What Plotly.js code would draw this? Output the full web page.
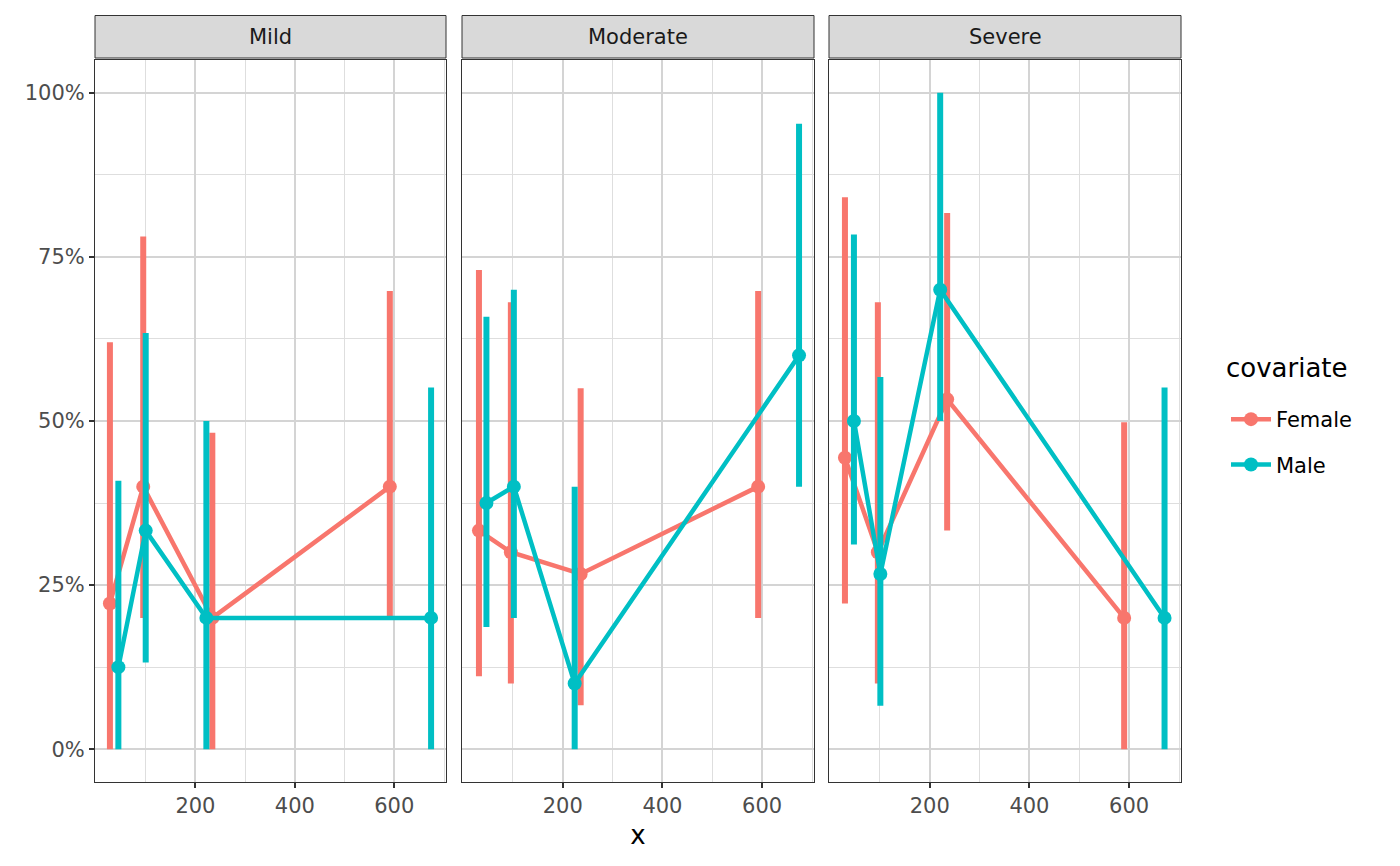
<!DOCTYPE html>
<html>
<head>
<meta charset="utf-8">
<script src="https://cdn.plot.ly/plotly-3.0.1.min.js"></script>
<style>
  body { margin: 0; background: white; }
  #chart { width: 1400px; height: 866px; }
</style>
</head>
<body>
<div id="chart"></div>
<script>
// facets, groups and colours
var panels = ['Mild', 'Moderate', 'Severe']
var groups = ['Female', 'Male']
var colors = { Female: '#F8766D', Male: '#00BFC4' }

// x positions per panel and group
var xFemale = {
    Mild: [28, 95, 234, 591],
    Moderate: [32, 96, 236, 592],
    Severe: [30, 96, 235, 590]
}
var xMale = {
    Mild: [45, 100, 222, 674],
    Moderate: [47, 102, 224, 674],
    Severe: [48, 101, 221, 671]
}

// estimates
var yFemale = {
    Mild: [0.222, 0.400, 0.200, 0.400],
    Moderate: [0.333, 0.300, 0.267, 0.400],
    Severe: [0.444, 0.300, 0.533, 0.200]
}
var yMale = {
    Mild: [0.125, 0.333, 0.200, 0.200],
    Moderate: [0.375, 0.400, 0.100, 0.600],
    Severe: [0.500, 0.267, 0.700, 0.200]
}

// interval bounds
var loFemale = {
    Mild: [0.000, 0.200, 0.000, 0.200],
    Moderate: [0.111, 0.100, 0.067, 0.200],
    Severe: [0.222, 0.100, 0.333, 0.000]
}
var hiFemale = {
    Mild: [0.620, 0.781, 0.482, 0.698],
    Moderate: [0.730, 0.681, 0.550, 0.698],
    Severe: [0.841, 0.681, 0.817, 0.498]
}
var loMale = {
    Mild: [0.000, 0.132, 0.000, 0.000],
    Moderate: [0.186, 0.200, 0.000, 0.400],
    Severe: [0.312, 0.066, 0.500, 0.000]
}
var hiMale = {
    Mild: [0.409, 0.634, 0.500, 0.551],
    Moderate: [0.659, 0.700, 0.400, 0.953],
    Severe: [0.784, 0.567, 1.000, 0.551]
}

var xTicks = [200, 400, 600]
var yTicks = [0, 0.25, 0.5, 0.75, 1]

var src = {
    Female: { x: xFemale, y: yFemale, lo: loFemale, hi: hiFemale },
    Male: { x: xMale, y: yMale, lo: loMale, hi: hiMale }
}

var traces = []
for (var p = 0; p < panels.length; p++) {
    var axSuffix = p === 0 ? '' : String(p + 1)
    for (var g = 0; g < groups.length; g++) {
        var name = groups[g]
        var d = src[name]
        var ys = d.y[panels[p]]
        var plus = [], minus = []
        for (var i = 0; i < ys.length; i++) {
            plus.push(d.hi[panels[p]][i] - ys[i])
            minus.push(ys[i] - d.lo[panels[p]][i])
        }
        traces.push({
            name: name,
            legendgroup: name,
            showlegend: p === 0,
            x: d.x[panels[p]],
            y: ys,
            xaxis: 'x' + axSuffix,
            yaxis: 'y' + axSuffix,
            mode: 'lines+markers',
            line: { color: colors[name], width: 4.5 },
            marker: { color: colors[name], size: 14 },
            error_y: {
                type: 'data',
                symmetric: false,
                array: plus,
                arrayminus: minus,
                color: colors[name],
                thickness: 6,
                width: 0
            },
            hoverinfo: 'x+y+name'
        })
    }
}

var L = 95, R = 219, T = 15, B = 84
var W = 1400 - L - R, H = 866 - T - B
var domains = [[0, 351 / W], [(462 - L) / W, (814 - L) / W], [(829 - L) / W, 1]]
var yTop = (782 - 60) / H

var gridMajor = '#d4d4d4'
var gridMinor = '#dedede'

var layout = {
    width: 1400,
    height: 866,
    margin: { l: L, r: R, t: T, b: B },
    paper_bgcolor: 'white',
    plot_bgcolor: 'white',
    font: { family: 'DejaVu Sans', color: '#4d4d4d', size: 21 },
    showlegend: true,
    legend: {
        x: (1226 - L) / W,
        xanchor: 'left',
        y: (782 - 399) / H,
        yanchor: 'top',
        font: { size: 21, color: 'black' },
        tracegroupgap: 15,
        itemwidth: 40,
        bgcolor: 'rgba(0,0,0,0)'
    },
    shapes: [],
    annotations: [{
        xref: 'paper', yref: 'paper',
        x: (1224 - L) / W,
        y: (782 - 368) / H,
        xanchor: 'left', yanchor: 'middle',
        text: 'covariate',
        showarrow: false,
        font: { size: 26, color: 'black' }
    }]
}

for (var p = 0; p < panels.length; p++) {
    var suffix = p === 0 ? '' : String(p + 1)
    layout['xaxis' + suffix] = {
        domain: domains[p],
        anchor: 'y' + suffix,
        range: [-2, 704],
        tickvals: xTicks,
        ticktext: xTicks.map(String),
        ticks: 'outside',
        ticklen: 5,
        tickwidth: 2,
        tickcolor: '#333333',
        showgrid: true,
        gridcolor: gridMajor,
        gridwidth: 2,
        minor: { tick0: 0, dtick: 100, showgrid: true, gridcolor: gridMinor, gridwidth: 1, ticks: '' },
        zeroline: false,
        showline: true,
        linecolor: '#333333',
        linewidth: 1,
        mirror: true,
        tickfont: { size: 21, color: '#4d4d4d' },
        title: p === 1 ? { text: 'x', font: { size: 26, color: 'black' }, standoff: 8 } : { text: '' },
        fixedrange: true
    }
    layout['yaxis' + suffix] = {
        domain: [0, yTop],
        anchor: 'x' + suffix,
        range: [-0.05, 1.05],
        tickvals: yTicks,
        tickformat: '.0%',
        showticklabels: p === 0,
        ticks: p === 0 ? 'outside' : '',
        ticklen: 5,
        tickwidth: 2,
        tickcolor: '#333333',
        showgrid: true,
        gridcolor: gridMajor,
        gridwidth: 2,
        minor: { tick0: 0.125, dtick: 0.25, showgrid: true, gridcolor: gridMinor, gridwidth: 1, ticks: '' },
        zeroline: false,
        showline: true,
        linecolor: '#333333',
        linewidth: 1,
        mirror: true,
        tickfont: { size: 21, color: '#4d4d4d' },
        fixedrange: true
    }
    // strip header
    layout.shapes.push({
        type: 'rect',
        xref: 'paper', yref: 'paper',
        x0: domains[p][0], x1: domains[p][1],
        y0: (782 - 58) / H, y1: (782 - 15.5) / H,
        fillcolor: '#d9d9d9',
        line: { color: '#333333', width: 1 }
    })
    layout.annotations.push({
        xref: 'paper', yref: 'paper',
        x: (domains[p][0] + domains[p][1]) / 2,
        y: (782 - 37) / H,
        xanchor: 'center', yanchor: 'middle',
        text: panels[p],
        showarrow: false,
        font: { size: 21, color: '#1a1a1a' }
    })
}

var config = { responsive: false, displayModeBar: false }

Plotly.newPlot('chart', traces, layout, config)
</script>
</body>
</html>
